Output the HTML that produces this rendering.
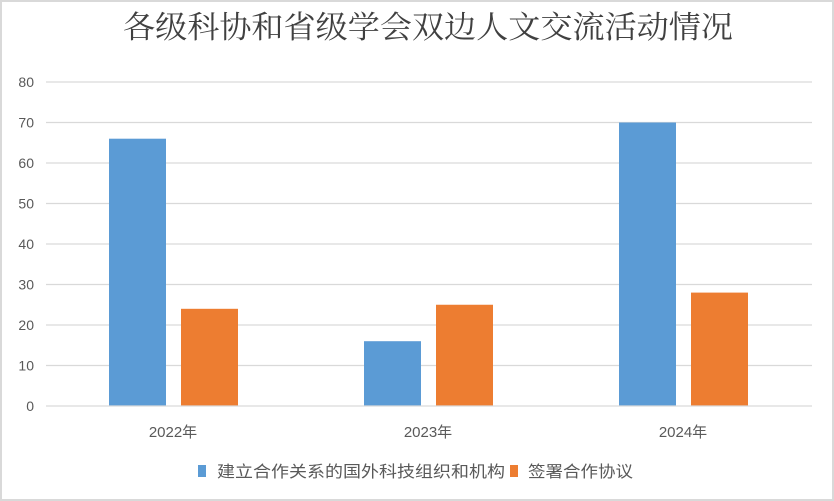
<!DOCTYPE html>
<html><head><meta charset="utf-8"><style>html,body{margin:0;padding:0;background:#fff}</style></head>
<body>
<svg width="834" height="501" xmlns="http://www.w3.org/2000/svg" style="display:block">
<rect x="1" y="1" width="832" height="499" fill="#fff" stroke="#d9d9d9" stroke-width="2"/>
<text x="428" y="38" font-family="'Liberation Serif','Noto Serif CJK SC',serif" font-size="31" fill="#404040" text-anchor="middle" textLength="610" lengthAdjust="spacingAndGlyphs">各级科协和省级学会双边人文交流活动情况</text>
<g stroke="#d9d9d9" stroke-width="1.3">
<line x1="46" x2="812" y1="82" y2="82"/>
<line x1="46" x2="812" y1="122.5" y2="122.5"/>
<line x1="46" x2="812" y1="163" y2="163"/>
<line x1="46" x2="812" y1="203.5" y2="203.5"/>
<line x1="46" x2="812" y1="244" y2="244"/>
<line x1="46" x2="812" y1="284.5" y2="284.5"/>
<line x1="46" x2="812" y1="325" y2="325"/>
<line x1="46" x2="812" y1="365.5" y2="365.5"/>
</g>
<g font-family="'Liberation Sans',sans-serif" font-size="14" fill="#595959" text-anchor="end">
<text x="34" y="87">80</text><text x="34" y="127.5">70</text><text x="34" y="168">60</text><text x="34" y="208.5">50</text>
<text x="34" y="249">40</text><text x="34" y="289.5">30</text><text x="34" y="330">20</text><text x="34" y="370.5">10</text><text x="34" y="411">0</text>
</g>
<g fill="#5b9bd5">
<rect x="109" y="138.7" width="57" height="267.3"/>
<rect x="364" y="341.2" width="57" height="64.8"/>
<rect x="619" y="122.5" width="57" height="283.5"/>
</g>
<g fill="#ed7d31">
<rect x="181" y="308.8" width="57" height="97.2"/>
<rect x="436" y="304.75" width="57" height="101.25"/>
<rect x="691" y="292.6" width="57" height="113.4"/>
</g>
<line x1="46" x2="812" y1="406" y2="406" stroke="#d9d9d9" stroke-width="1.3"/>
<g font-family="'Liberation Sans','Noto Sans CJK SC',sans-serif" font-size="15" fill="#595959" text-anchor="middle">
<text x="173" y="437">2022年</text><text x="428" y="437">2023年</text><text x="683" y="437">2024年</text>
</g>
<rect x="198" y="465" width="8" height="12" fill="#5b9bd5"/>
<text x="217" y="477" font-family="'Liberation Sans','Noto Sans CJK SC',sans-serif" font-size="16" fill="#595959" textLength="288" lengthAdjust="spacingAndGlyphs">建立合作关系的国外科技组织和机构</text>
<rect x="510" y="465" width="8" height="12" fill="#ed7d31"/>
<text x="528" y="477" font-family="'Liberation Sans','Noto Sans CJK SC',sans-serif" font-size="16" fill="#595959" textLength="105" lengthAdjust="spacingAndGlyphs">签署合作协议</text>
</svg>
</body></html>
